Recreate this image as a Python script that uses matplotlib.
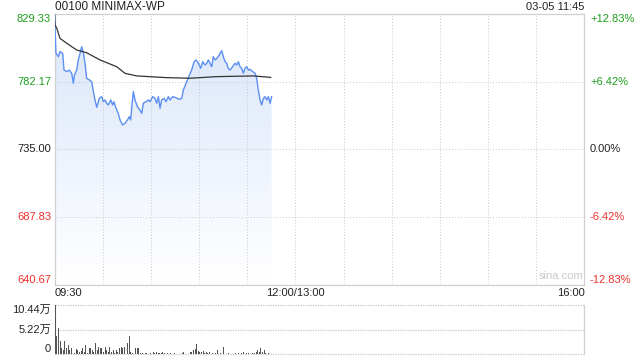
#!/usr/bin/env python3
"""Intraday time-share chart for 00100 MINIMAX-WP (sina style), saved to out.png."""

import matplotlib.pyplot as plt
import matplotlib.transforms as mtransforms
import numpy as np
from matplotlib.colors import LinearSegmentedColormap
from matplotlib.patches import Polygon

plt.rcParams["font.family"] = ["Liberation Sans", "Noto Sans CJK SC", "DejaVu Sans"]

TITLE = "00100 MINIMAX-WP"
STAMP = "03-05 11:45"
PREV_CLOSE = 735.00
PRICE_TICKS = [640.67, 687.83, 735.00, 782.17, 829.33]
PCT_LABELS = ["-12.83%", "-6.42%", "0.00%", "+6.42%", "+12.83%"]
TIME_TICKS = [0, 150, 330]
TIME_LABELS = ["09:30", "12:00/13:00", "16:00"]
VOL_TICKS = [0, 5.22, 10.44]
VOL_LABELS = ["0", "5.22万", "10.44万"]

# minutes after 09:30 (lunch break removed) and last price
price_min = [
    0, 0.9, 2.4, 3.4, 5.1, 5.9, 7.6, 9.2, 10.7, 11.7, 12.4, 13.8, 14.8, 15.9,
    16.9, 18.0, 19.0, 20.0, 21.7, 23.1, 24.2, 25.2, 26.3, 27.9, 29.4, 30.4,
    31.4, 32.5, 33.5, 35.0, 36.2, 37.0, 38.3, 39.7, 40.8, 42.4, 43.9, 45.4,
    46.6, 47.4, 48.3, 49.1, 50.1, 51.6, 53.2, 54.3, 55.3, 57.0, 58.4, 59.5,
    61.1, 62.6, 63.6, 64.7, 65.7, 66.7, 68.2, 69.4, 70.9, 71.9, 73.6, 75.0,
    76.5, 78.2, 79.2, 80.2, 82.3, 84.0, 85.4, 86.9, 88.1, 89.6, 91.0, 92.3,
    93.7, 94.8, 95.8, 96.8, 97.9, 98.9, 100.0, 101.0, 102.0, 103.1, 104.1,
    105.1, 106.2, 107.2, 108.2, 109.3, 110.9, 112.4, 113.4, 114.5, 115.5,
    116.5, 117.6, 118.6, 119.7, 120.7, 121.7, 123.4, 124.9, 125.9, 126.9,
    128.0, 129.0, 130.1, 131.1, 132.1, 133.2, 134.2, 135.2,
]
price = [
    829.3, 801.8, 799.5, 803.0, 801.8, 790.2, 789.1, 790.2, 787.9, 781.0, 786.7,
    790.2, 797.2, 801.8, 806.4, 801.8, 794.9, 784.4, 783.3, 782.1, 775.2, 769.4,
    764.3, 770.5, 771.7, 768.2, 769.4, 767.1, 765.9, 769.4, 765.9, 768.2, 763.6,
    760.1, 755.5, 752.0, 753.2, 755.5, 757.8, 755.5, 767.1, 775.2, 769.4, 764.8,
    762.4, 760.1, 767.1, 768.2, 769.4, 768.2, 771.7, 770.5, 767.1, 771.7, 763.6,
    769.4, 770.5, 768.2, 771.7, 769.4, 771.7, 771.2, 770.5, 769.9, 770.5, 776.3,
    782.1, 786.7, 790.2, 796.0, 797.2, 794.9, 791.4, 796.0, 793.7, 794.9, 797.2,
    794.9, 792.5, 799.5, 797.2, 798.3, 799.5, 801.8, 803.6, 799.5, 796.0, 794.9,
    791.4, 790.2, 792.5, 794.9, 793.7, 796.0, 792.5, 791.4, 787.9, 791.4, 792.5,
    790.2, 790.7, 789.1, 787.9, 784.4, 776.3, 769.4, 765.9, 770.5, 771.7, 769.4,
    771.7, 767.1, 771.7,
]

# average price line
avg_min = [0, 0.3, 1.4, 3.4, 7.6, 13.8, 20.0, 28.3, 38.7, 43.9, 51.2, 69.9,
           84.4, 101.0, 123.8, 134.6]
avg_price = [829.3, 821.5, 819.2, 812.2, 808.8, 804.1, 802.2, 797.2, 792.5,
             787.9, 786.1, 784.9, 784.5, 785.6, 786.1, 785.1]

# volume per minute, in 万 shares
volume = [
    10.44, 3.77, 5.58, 2.68, 1.23, 0.87, 2.68, 1.23, 1.96, 0.87, 1.38, 0.51,
    0.14, 1.09, 0.87, 0.51, 0.65, 1.23, 0.51, 1.96, 0.14, 1.38, 1.38, 0.87,
    0.51, 2.32, 0.87, 1.59, 1.38, 1.23, 0.51, 1.59, 0.87, 0.51, 1.59, 0.36,
    0.87, 0.14, 0.87, 0.51, 1.38, 1.59, 1.23, 1.59, 1.96, 2.32, 3.77, 0.36,
    0.14, 0.65, 1.23, 1.38, 1.38, 0.14, 0.22, 0.07, 0.14, 0.14, 0.07, 0.14,
    0.07, 0.36, 0.14, 0.51, 0.14, 0.22, 0.14, 0.36, 0.14,
    0.07, 0.22, 0.07, 0.14, 0.05, 0.14, 0.05, 0.07, 0.05, 0.07, 0.22, 0.36,
    0.07, 0.22, 0.05, 0.36, 0.51, 0.87, 1.09, 2.10, 0.65, 0.51, 0.36, 0.65,
    0.14, 0.36, 0.22, 0.36, 0.07, 0.14, 0.05, 0.14, 0.87, 0.05, 0.14, 0.07,
    1.45, 0.07, 0.07, 0.14, 0.05, 0.07, 0.05, 0.14, 0.07, 0.14, 0.07, 0.22,
    0.36, 0.07, 0.14, 0.14, 0.07, 0.07, 0.22, 0.14, 0.36, 0.87, 0.36, 1.23,
    0.36, 0.87, 0.14, 0.05, 0.14, 0.05,
]

GREEN = "#1e9e1e"
RED = "#f0302a"
GRID = "#c8c8c8"
BORDER = "#d0d0d0"
LINE = "#5b8ff0"


def label_color(value: float) -> str:
    if abs(value - PREV_CLOSE) < 1e-6:
        return "#222222"
    return GREEN if value > PREV_CLOSE else RED


def main() -> None:
    fig = plt.figure(figsize=(6.4, 3.6), dpi=100)
    ax = fig.add_axes([0.0852, 0.2075, 0.828, 0.7545])
    axv = fig.add_axes([0.0852, 0.0167, 0.828, 0.136])

    lo, hi = PRICE_TICKS[0], PRICE_TICKS[-1]
    ax.set_xlim(0, 330)
    ax.set_ylim(lo, hi)

    # gradient fill under the price line
    cmap = LinearSegmentedColormap.from_list("fill", ["#ffffff", "#d9e5fa"])
    grad = np.linspace(0, 1, 256).reshape(-1, 1)
    img = ax.imshow(grad, extent=[0, 330, lo, hi], origin="lower", cmap=cmap,
                    aspect="auto", zorder=1)
    verts = list(zip(price_min, price)) + [(price_min[-1], lo), (0, lo)]
    poly = Polygon(verts, closed=True, facecolor="none", edgecolor="none",
                   transform=ax.transData)
    ax.add_patch(poly)
    img.set_clip_path(poly)

    ax.plot(price_min, price, color=LINE, lw=1.0, zorder=3)
    ax.plot(avg_min, avg_price, color="#333333", lw=0.9, zorder=3)

    for t in range(30, 330, 30):
        ax.axvline(t, color=GRID, lw=0.7, ls=(0, (1, 2)), zorder=2)
    for p in PRICE_TICKS[1:-1]:
        ax.axhline(p, color=GRID, lw=0.7, ls=(0, (1, 2)), zorder=2)

    ax.set_xticks([])
    ax.set_yticks([])
    for sp in ax.spines.values():
        sp.set_color(BORDER)
        sp.set_linewidth(0.9)

    left_tr = mtransforms.blended_transform_factory(fig.transFigure, ax.transData)
    for i, (p, pct) in enumerate(zip(PRICE_TICKS, PCT_LABELS)):
        va = "bottom" if i == 0 else ("top" if i == len(PRICE_TICKS) - 1 else "center")
        c = label_color(p)
        fig.text(51 / 640, p, f"{p:.2f}", transform=left_tr, ha="right", va=va,
                 color=c, fontsize=8)
        fig.text(590 / 640, p, pct, transform=left_tr, ha="left", va=va,
                 color=c, fontsize=8)

    time_tr = mtransforms.blended_transform_factory(ax.transData, fig.transFigure)
    for t, lbl, ha in zip(TIME_TICKS, TIME_LABELS, ["left", "center", "right"]):
        fig.text(t, 1 - 293.5 / 360, lbl, transform=time_tr, ha=ha, va="center",
                 color="#222222", fontsize=8)

    fig.text(55 / 640, 1 - 7.5 / 360, TITLE, ha="left", va="center",
             color="#222222", fontsize=8.5)
    fig.text(584 / 640, 1 - 7.5 / 360, STAMP, ha="right", va="center",
             color="#222222", fontsize=8)
    ax.text(0.955, 0.015, "sina.com", transform=ax.transAxes, ha="center",
            va="bottom", color="#c8c8c8", fontsize=8)

    # volume panel
    axv.set_xlim(0, 330)
    axv.set_ylim(0, VOL_TICKS[-1])
    axv.bar(np.arange(len(volume)) + 0.5, volume, width=0.6, color="#555555",
            zorder=3)
    for v in VOL_TICKS:
        axv.axhline(v, color=GRID, lw=0.9, ls=(0, (1, 1)), zorder=2,
                    clip_on=False)
    axv.set_xticks([])
    axv.set_yticks([])
    axv.spines["top"].set_visible(False)
    axv.spines["bottom"].set_visible(False)
    for side in ("left", "right"):
        axv.spines[side].set_color(BORDER)
        axv.spines[side].set_linewidth(0.9)

    vol_tr = mtransforms.blended_transform_factory(fig.transFigure, axv.transData)
    for i, (v, lbl) in enumerate(zip(VOL_TICKS, VOL_LABELS)):
        va = "bottom" if i == 0 else ("top" if i == len(VOL_TICKS) - 1 else "center")
        fig.text(51 / 640, v, lbl, transform=vol_tr, ha="right", va=va,
                 color="#222222", fontsize=8)

    fig.savefig("out.png", dpi=100)
    plt.close(fig)


if __name__ == "__main__":
    main()
